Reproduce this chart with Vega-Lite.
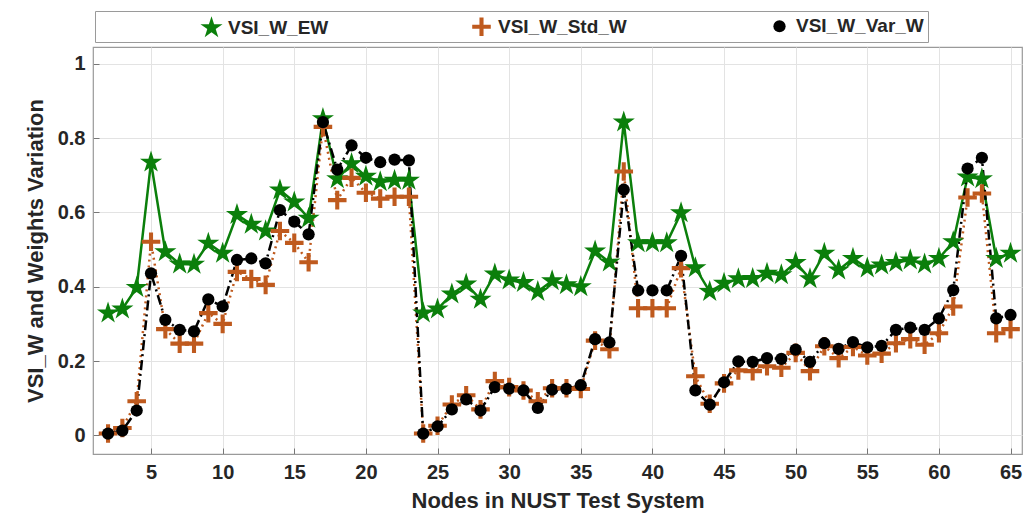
{
  "$schema": "https://vega.github.io/schema/vega-lite/v6.json",
  "width": 929,
  "height": 407,
  "autosize": {"type": "none"},
  "padding": {"left": 93, "top": 47, "right": 8, "bottom": 64},
  "background": "white",
  "config": {
    "font": "Liberation Sans",
    "view": {"stroke": "#9a9a9a", "strokeWidth": 1.2},
    "axis": {
      "labelFont": "Liberation Sans", "labelFontWeight": "bold", "labelFontSize": 20, "labelColor": "#262626",
      "titleFont": "Liberation Sans", "titleFontWeight": "bold", "titleFontSize": 22, "titleColor": "#262626",
      "gridColor": "#e3e3e3", "gridWidth": 1, "domain": false,
      "tickColor": "#777", "tickSize": -6
    }
  },
  "data": {"values": [
    {"node":2,"VSI_W_EW":0.329,"VSI_W_Std_W":0.005,"VSI_W_Var_W":0.005},
    {"node":3,"VSI_W_EW":0.34,"VSI_W_Std_W":0.02,"VSI_W_Var_W":0.013},
    {"node":4,"VSI_W_EW":0.398,"VSI_W_Std_W":0.092,"VSI_W_Var_W":0.067},
    {"node":5,"VSI_W_EW":0.735,"VSI_W_Std_W":0.521,"VSI_W_Var_W":0.436},
    {"node":6,"VSI_W_EW":0.494,"VSI_W_Std_W":0.286,"VSI_W_Var_W":0.311},
    {"node":7,"VSI_W_EW":0.461,"VSI_W_Std_W":0.247,"VSI_W_Var_W":0.284},
    {"node":8,"VSI_W_EW":0.46,"VSI_W_Std_W":0.247,"VSI_W_Var_W":0.28},
    {"node":9,"VSI_W_EW":0.517,"VSI_W_Std_W":0.329,"VSI_W_Var_W":0.366},
    {"node":10,"VSI_W_EW":0.49,"VSI_W_Std_W":0.3,"VSI_W_Var_W":0.347},
    {"node":11,"VSI_W_EW":0.594,"VSI_W_Std_W":0.44,"VSI_W_Var_W":0.472},
    {"node":12,"VSI_W_EW":0.568,"VSI_W_Std_W":0.421,"VSI_W_Var_W":0.476},
    {"node":13,"VSI_W_EW":0.55,"VSI_W_Std_W":0.405,"VSI_W_Var_W":0.463},
    {"node":14,"VSI_W_EW":0.66,"VSI_W_Std_W":0.55,"VSI_W_Var_W":0.606},
    {"node":15,"VSI_W_EW":0.628,"VSI_W_Std_W":0.518,"VSI_W_Var_W":0.575},
    {"node":16,"VSI_W_EW":0.584,"VSI_W_Std_W":0.466,"VSI_W_Var_W":0.541},
    {"node":17,"VSI_W_EW":0.852,"VSI_W_Std_W":0.83,"VSI_W_Var_W":0.843},
    {"node":18,"VSI_W_EW":0.69,"VSI_W_Std_W":0.633,"VSI_W_Var_W":0.715},
    {"node":19,"VSI_W_EW":0.731,"VSI_W_Std_W":0.693,"VSI_W_Var_W":0.78},
    {"node":20,"VSI_W_EW":0.697,"VSI_W_Std_W":0.653,"VSI_W_Var_W":0.747},
    {"node":21,"VSI_W_EW":0.682,"VSI_W_Std_W":0.637,"VSI_W_Var_W":0.735},
    {"node":22,"VSI_W_EW":0.686,"VSI_W_Std_W":0.642,"VSI_W_Var_W":0.742},
    {"node":23,"VSI_W_EW":0.686,"VSI_W_Std_W":0.642,"VSI_W_Var_W":0.74},
    {"node":24,"VSI_W_EW":0.329,"VSI_W_Std_W":0.005,"VSI_W_Var_W":0.005},
    {"node":25,"VSI_W_EW":0.34,"VSI_W_Std_W":0.026,"VSI_W_Var_W":0.024},
    {"node":26,"VSI_W_EW":0.38,"VSI_W_Std_W":0.083,"VSI_W_Var_W":0.07},
    {"node":27,"VSI_W_EW":0.407,"VSI_W_Std_W":0.108,"VSI_W_Var_W":0.097},
    {"node":28,"VSI_W_EW":0.366,"VSI_W_Std_W":0.07,"VSI_W_Var_W":0.067},
    {"node":29,"VSI_W_EW":0.434,"VSI_W_Std_W":0.146,"VSI_W_Var_W":0.13},
    {"node":30,"VSI_W_EW":0.418,"VSI_W_Std_W":0.13,"VSI_W_Var_W":0.126},
    {"node":31,"VSI_W_EW":0.411,"VSI_W_Std_W":0.121,"VSI_W_Var_W":0.121},
    {"node":32,"VSI_W_EW":0.387,"VSI_W_Std_W":0.092,"VSI_W_Var_W":0.074},
    {"node":33,"VSI_W_EW":0.416,"VSI_W_Std_W":0.127,"VSI_W_Var_W":0.123},
    {"node":34,"VSI_W_EW":0.405,"VSI_W_Std_W":0.127,"VSI_W_Var_W":0.125},
    {"node":35,"VSI_W_EW":0.4,"VSI_W_Std_W":0.125,"VSI_W_Var_W":0.135},
    {"node":36,"VSI_W_EW":0.496,"VSI_W_Std_W":0.255,"VSI_W_Var_W":0.259},
    {"node":37,"VSI_W_EW":0.466,"VSI_W_Std_W":0.232,"VSI_W_Var_W":0.25},
    {"node":38,"VSI_W_EW":0.843,"VSI_W_Std_W":0.71,"VSI_W_Var_W":0.661},
    {"node":39,"VSI_W_EW":0.518,"VSI_W_Std_W":0.342,"VSI_W_Var_W":0.39},
    {"node":40,"VSI_W_EW":0.518,"VSI_W_Std_W":0.342,"VSI_W_Var_W":0.39},
    {"node":41,"VSI_W_EW":0.518,"VSI_W_Std_W":0.342,"VSI_W_Var_W":0.39},
    {"node":42,"VSI_W_EW":0.599,"VSI_W_Std_W":0.45,"VSI_W_Var_W":0.483},
    {"node":43,"VSI_W_EW":0.451,"VSI_W_Std_W":0.159,"VSI_W_Var_W":0.121},
    {"node":44,"VSI_W_EW":0.387,"VSI_W_Std_W":0.085,"VSI_W_Var_W":0.083},
    {"node":45,"VSI_W_EW":0.409,"VSI_W_Std_W":0.14,"VSI_W_Var_W":0.143},
    {"node":46,"VSI_W_EW":0.421,"VSI_W_Std_W":0.175,"VSI_W_Var_W":0.199},
    {"node":47,"VSI_W_EW":0.422,"VSI_W_Std_W":0.173,"VSI_W_Var_W":0.198},
    {"node":48,"VSI_W_EW":0.436,"VSI_W_Std_W":0.186,"VSI_W_Var_W":0.208},
    {"node":49,"VSI_W_EW":0.432,"VSI_W_Std_W":0.182,"VSI_W_Var_W":0.206},
    {"node":50,"VSI_W_EW":0.465,"VSI_W_Std_W":0.222,"VSI_W_Var_W":0.231},
    {"node":51,"VSI_W_EW":0.421,"VSI_W_Std_W":0.173,"VSI_W_Var_W":0.198},
    {"node":52,"VSI_W_EW":0.49,"VSI_W_Std_W":0.24,"VSI_W_Var_W":0.248},
    {"node":53,"VSI_W_EW":0.445,"VSI_W_Std_W":0.208,"VSI_W_Var_W":0.233},
    {"node":54,"VSI_W_EW":0.476,"VSI_W_Std_W":0.238,"VSI_W_Var_W":0.251},
    {"node":55,"VSI_W_EW":0.45,"VSI_W_Std_W":0.215,"VSI_W_Var_W":0.237},
    {"node":56,"VSI_W_EW":0.458,"VSI_W_Std_W":0.22,"VSI_W_Var_W":0.241},
    {"node":57,"VSI_W_EW":0.465,"VSI_W_Std_W":0.248,"VSI_W_Var_W":0.284},
    {"node":58,"VSI_W_EW":0.472,"VSI_W_Std_W":0.259,"VSI_W_Var_W":0.29},
    {"node":59,"VSI_W_EW":0.461,"VSI_W_Std_W":0.244,"VSI_W_Var_W":0.284},
    {"node":60,"VSI_W_EW":0.476,"VSI_W_Std_W":0.275,"VSI_W_Var_W":0.315},
    {"node":61,"VSI_W_EW":0.521,"VSI_W_Std_W":0.347,"VSI_W_Var_W":0.391},
    {"node":62,"VSI_W_EW":0.695,"VSI_W_Std_W":0.64,"VSI_W_Var_W":0.718},
    {"node":63,"VSI_W_EW":0.69,"VSI_W_Std_W":0.651,"VSI_W_Var_W":0.747},
    {"node":64,"VSI_W_EW":0.476,"VSI_W_Std_W":0.275,"VSI_W_Var_W":0.315},
    {"node":65,"VSI_W_EW":0.49,"VSI_W_Std_W":0.286,"VSI_W_Var_W":0.324}
  ]},
  "transform": [
    {"fold": ["VSI_W_EW", "VSI_W_Std_W", "VSI_W_Var_W"], "as": ["series", "value"]}
  ],
  "encoding": {
    "x": {
      "field": "node", "type": "quantitative",
      "scale": {"domain": [0.95, 65.8], "nice": false, "zero": false},
      "axis": {"values": [5,10,15,20,25,30,35,40,45,50,55,60,65], "title": "Nodes in NUST Test System", "labelPadding": 14, "titlePadding": 8, "labelFlush": false}
    },
    "y": {
      "field": "value", "type": "quantitative",
      "scale": {"domain": [-0.05, 1.045], "nice": false, "zero": false},
      "axis": {"values": [0,0.2,0.4,0.6,0.8,1], "format": "~g", "title": "VSI_W and Weights Variation", "labelPadding": 14, "titlePadding": 10}
    }
  },
  "layer": [
    {
      "transform": [{"filter": "datum.series == 'VSI_W_EW'"}],
      "mark": {"type": "line", "color": "#0b7f0b", "strokeWidth": 2.5},
      "encoding": {}
    },
    {
      "transform": [{"filter": "datum.series == 'VSI_W_Std_W'"}],
      "mark": {"type": "line", "color": "#bf5a1e", "strokeWidth": 2.5, "strokeDash": [2, 4]},
      "encoding": {}
    },
    {
      "transform": [{"filter": "datum.series == 'VSI_W_Var_W'"}],
      "mark": {"type": "line", "color": "#000000", "strokeWidth": 2.5, "strokeDash": [10, 4, 2, 4]},
      "encoding": {}
    },
    {
      "mark": {"type": "point", "filled": true, "opacity": 1},
      "encoding": {
        "color": {
          "field": "series", "type": "nominal",
          "scale": {"domain": ["VSI_W_EW", "VSI_W_Std_W", "VSI_W_Var_W"], "range": ["#0b7f0b", "#bf5a1e", "#000000"]},
          "legend": {
            "title": null,
            "orient": "none", "legendX": 2, "legendY": -36,
            "direction": "horizontal", "columns": 3, "columnPadding": 40,
            "padding": 4, "strokeColor": "#9a9a9a", "fillColor": "white",
            "symbolOffset": 100, "labelOffset": 4, "labelLimit": 300,
            "labelFont": "Liberation Sans", "labelFontWeight": "bold", "labelFontSize": 19, "labelColor": "#262626"
          }
        },
        "shape": {
          "field": "series", "type": "nominal",
          "scale": {"domain": ["VSI_W_EW", "VSI_W_Std_W", "VSI_W_Var_W"], "range": [
            "M0,-1L0.223,-0.307L0.951,-0.309L0.361,0.117L0.588,0.809L0,0.38L-0.588,0.809L-0.361,0.117L-0.951,-0.309L-0.223,-0.307Z",
            "M-1,-0.22H-0.22V-1H0.22V-0.22H1V0.22H0.22V1H-0.22V0.22H-1Z",
            "circle"
          ]}
        },
        "size": {
          "field": "series", "type": "nominal",
          "scale": {"domain": ["VSI_W_EW", "VSI_W_Std_W", "VSI_W_Var_W"], "range": [540, 150, 85]}
        }
      }
    }
  ]
}
